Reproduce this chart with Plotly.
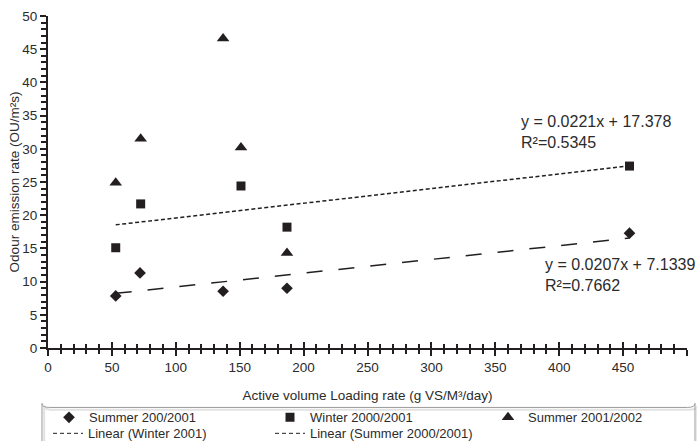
import plotly.graph_objects as go

# Active volume loading rate (g VS/m3/day) and odour emission rates (OU/m2s)
summer_0001_x = [53, 72, 137, 187, 455]
summer_0001_y = [7.85, 11.3, 8.55, 9.0, 17.3]

winter_0001_x = [53, 72.5, 151, 187, 455]
winter_0001_y = [15.1, 21.7, 24.4, 18.2, 27.4]

summer_0102_x = [53, 72.5, 137, 151, 187]
summer_0102_y = [24.9, 31.5, 46.6, 30.2, 14.3]

# Linear fits (slope, intercept) and the span they are drawn over
winter_fit = (0.0221, 17.378)
summer_fit = (0.0207, 7.1339)
fit_span = [53, 455]

x_ticks = [0, 50, 100, 150, 200, 250, 300, 350, 400, 450, 500]
y_ticks = [0, 5, 10, 15, 20, 25, 30, 35, 40, 45, 50]

INK = "#231f20"
TXT = "#2b2b2b"
FONT = "Arial, Liberation Sans, sans-serif"

fig = go.Figure()

fig.add_trace(go.Scatter(
    x=summer_0001_x, y=summer_0001_y, mode="markers", name="Summer 200/2001",
    legend="legend", marker=dict(symbol="diamond", size=9, color=INK)))
fig.add_trace(go.Scatter(
    x=winter_0001_x, y=winter_0001_y, mode="markers", name="Winter 2000/2001",
    legend="legend2", marker=dict(symbol="square", size=9, color=INK)))
fig.add_trace(go.Scatter(
    x=summer_0102_x, y=summer_0102_y, mode="markers", name="Summer 2001/2002",
    legend="legend3", marker=dict(symbol="triangle-up", size=11, color=INK)))


def fit_line(fit):
    m, c = fit
    return [m * v + c for v in fit_span]


# Trend lines on the chart; their legend keys use a short dash sample
fig.add_trace(go.Scatter(
    x=fit_span, y=fit_line(winter_fit), mode="lines", showlegend=False,
    legendgroup="lw", line=dict(color=INK, width=1.5, dash="4px,2.5px")))
fig.add_trace(go.Scatter(
    x=fit_span, y=fit_line(summer_fit), mode="lines", showlegend=False,
    legendgroup="ls", line=dict(color=INK, width=1.5, dash="16px,16px")))
fig.add_trace(go.Scatter(
    x=[None], y=[None], mode="lines", name="Linear (Winter 2001)", legendgroup="lw",
    legend="legend4", line=dict(color=INK, width=1, dash="4px,3px")))
fig.add_trace(go.Scatter(
    x=[None], y=[None], mode="lines", name="Linear (Summer 2000/2001)", legendgroup="ls",
    legend="legend5", line=dict(color=INK, width=1, dash="4px,3px")))

# Equation labels
fig.add_annotation(x=0.7376, y=0.650, xref="paper", yref="paper", xanchor="left", yanchor="middle",
                   showarrow=False, align="left",
                   text="y = 0.0221x + 17.378<br>R²=0.5345",
                   font=dict(family=FONT, size=16, color=TXT))
fig.add_annotation(x=0.775, y=0.219, xref="paper", yref="paper", xanchor="left", yanchor="middle",
                   showarrow=False, align="left",
                   text="y = 0.0207x + 7.1339<br>R²=0.7662",
                   font=dict(family=FONT, size=16, color=TXT))

# Rounded legend frame with a faint shadow
def rounded_box(x0, y0, x1, y1, r):
    return (f"M {x0 + r} {y0} L {x1 - r} {y0} Q {x1} {y0} {x1} {y0 + r} "
            f"L {x1} {y1} L {x0} {y1} L {x0} {y0 + r} Q {x0} {y0} {x0 + r} {y0} Z")

fig.add_shape(type="path", xref="paper", yref="paper", layer="above",
              path=rounded_box(-0.006, -0.186, 1.016, -0.33, 0.012),
              line=dict(color="#e2e2e2", width=2), fillcolor="rgba(0,0,0,0)")
fig.add_shape(type="path", xref="paper", yref="paper", layer="above",
              path=rounded_box(-0.0094, -0.179, 1.0125, -0.33, 0.012),
              line=dict(color="#9a9a9a", width=1), fillcolor="rgba(0,0,0,0)")

axis_common = dict(
    showline=True, linecolor=INK, linewidth=2, showgrid=False, zeroline=False,
    ticks="outside", tickcolor=INK, tickwidth=2,
    tickfont=dict(family=FONT, size=13.5, color=TXT),
)

# Plot area spans 48..687 px horizontally and 16..347.7 px vertically
PX0, PW = 48, 639
PY0, PH = 347.7, 331.7


def legend_at(left_px, top_px):
    return dict(orientation="v", xanchor="left", yanchor="top",
                x=(left_px - PX0) / PW, y=(PY0 - top_px) / PH,
                bgcolor="rgba(0,0,0,0)", borderwidth=0, itemwidth=30,
                tracegroupgap=0, font=dict(family=FONT, size=13, color=TXT))


ROW1, ROW2 = 402, 418

fig.update_layout(
    width=697, height=441,
    margin=dict(l=48, r=10, t=16, b=93, autoexpand=False),
    paper_bgcolor="white", plot_bgcolor="white",
    font=dict(family=FONT, size=13, color=TXT),
    showlegend=True,
    legend=legend_at(49, ROW1),
    legend2=legend_at(270, ROW1),
    legend3=legend_at(488, ROW1),
    legend4=legend_at(48, ROW2),
    legend5=legend_at(270, ROW2),
    xaxis=dict(range=[0, 500], tickvals=x_ticks, ticklen=6,
               minor=dict(dtick=10, ticklen=4, tickwidth=1.5, tickcolor=INK, ticks="outside"),
               title=dict(text="Active volume Loading rate (g VS/M³/day)",
                          font=dict(family=FONT, size=13.5, color=TXT), standoff=16),
               **axis_common),
    xaxis2=dict(range=[0, 500], overlaying="x", side="bottom", anchor="y",
                tickvals=x_ticks, ticks="inside", ticklen=6, tickwidth=2, tickcolor=INK,
                showticklabels=False, showline=False, showgrid=False, zeroline=False,
                minor=dict(dtick=10, ticklen=4, tickwidth=1.5, tickcolor=INK, ticks="inside")),
    yaxis=dict(range=[0, 50], tickvals=y_ticks, ticklen=6,
               minor=dict(dtick=1, ticklen=5, tickwidth=1.5, tickcolor=INK, ticks="outside"),
               title=dict(text="Odour emission rate (OU/m²s)",
                          font=dict(family=FONT, size=13.5, color=TXT), standoff=0),
               **axis_common),
)

# invisible trace to activate the overlaid tick axis
fig.add_trace(go.Scatter(x=[0], y=[0], xaxis="x2", mode="markers",
                         marker=dict(opacity=0), showlegend=False, hoverinfo="skip"))

fig.write_html("out.html")
